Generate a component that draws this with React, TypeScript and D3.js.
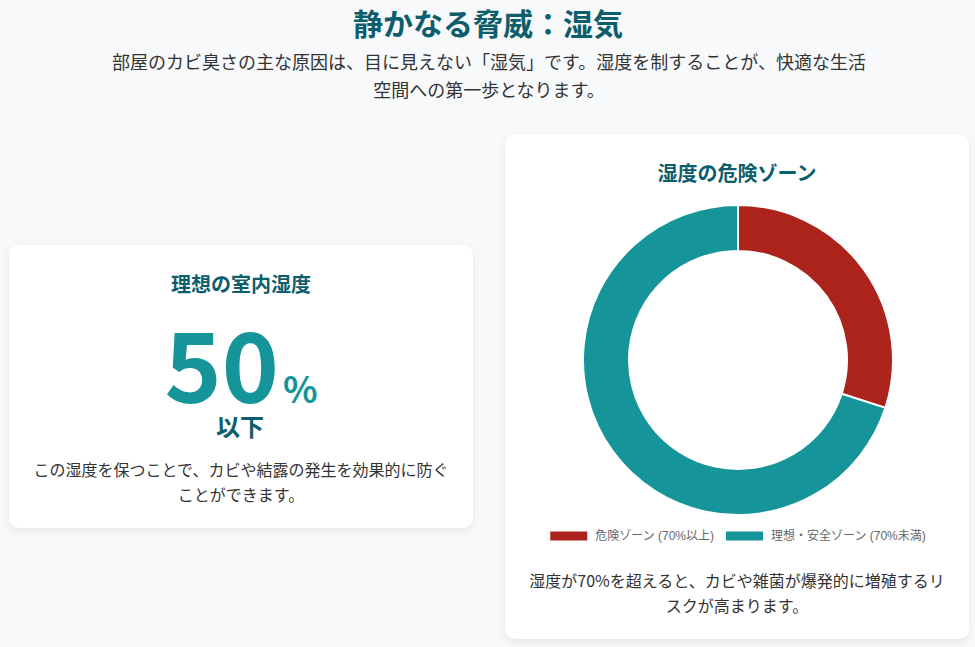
import React, { useEffect, useRef } from "react";
import * as d3 from "d3";

// Chart data
const zoneLabels = ["危険ゾーン (70%以上)", "理想・安全ゾーン (70%未満)"];
const zoneValues = [30, 70];
const zoneColors = ["#AB231B", "#15959A"];

const pageTitle = "静かなる脅威：湿気";
const introLines = [
  "部屋のカビ臭さの主な原因は、目に見えない「湿気」です。湿度を制することが、快適な生活",
  "空間への第一歩となります。",
];
const idealTitle = "理想の室内湿度";
const idealValue = "50";
const idealUnit = "%";
const idealSuffix = "以下";
const idealNote = ["この湿度を保つことで、カビや結露の発生を効果的に防ぐ", "ことができます。"];
const chartTitle = "湿度の危険ゾーン";
const chartNote = ["湿度が70%を超えると、カビや雑菌が爆発的に増殖するリ", "スクが高まります。"];

const JP = "'Noto Sans CJK JP', 'Noto Sans', sans-serif";
const DARK = "#0D5E6D";
const BODY = "#333333";

type Slice = { label: string; value: number; color: string };

const App = () => {
  const ref = useRef<SVGSVGElement | null>(null);

  useEffect(() => {
    const width = 975;
    const height = 647;
    const svg = d3.select(ref.current);
    svg.selectAll("*").remove();
    svg.attr("viewBox", `0 0 ${width} ${height}`);

    // shadow for the cards
    const defs = svg.append("defs");
    const f = defs.append("filter").attr("id", "shadow").attr("x", "-10%").attr("y", "-10%").attr("width", "120%").attr("height", "130%");
    f.append("feDropShadow").attr("dx", 0).attr("dy", 3).attr("stdDeviation", 4).attr("flood-color", "#000").attr("flood-opacity", 0.08);

    svg.append("rect").attr("width", width).attr("height", height).attr("fill", "#F8F9FB");

    const text = (g: any, str: string, x: number, y: number, size: number, weight: number, color: string) =>
      g
        .append("text")
        .attr("x", x)
        .attr("y", y)
        .attr("text-anchor", "middle")
        .attr("dominant-baseline", "central")
        .attr("font-family", JP)
        .attr("font-size", size)
        .attr("font-weight", weight)
        .attr("fill", color)
        .text(str);

    // header
    text(svg, pageTitle, 488, 22, 30, 700, DARK);
    introLines.forEach((l, i) => text(svg, l, 489, 61 + i * 28, 18, 400, BODY));

    // left card
    const lx = 9, ly = 245, lw = 464, lh = 283;
    const lcx = lx + lw / 2;
    svg.append("rect").attr("x", lx).attr("y", ly).attr("width", lw).attr("height", lh).attr("rx", 10).attr("fill", "#fff").attr("filter", "url(#shadow)");
    text(svg, idealTitle, lcx, 283, 20, 700, DARK);
    const big = svg
      .append("text")
      .attr("x", lcx)
      .attr("y", 403)
      .attr("text-anchor", "middle")
      .attr("font-family", JP)
      .attr("font-weight", 700)
      .attr("fill", zoneColors[1]);
    big.append("tspan").attr("font-size", 97).text(idealValue);
    big.append("tspan").attr("font-size", 36).attr("dx", 4).text(idealUnit);
    text(svg, idealSuffix, lcx - 1, 425, 24, 700, DARK);
    idealNote.forEach((l, i) => text(svg, l, lcx, 469 + i * 25, 16, 400, BODY));

    // right card
    const rx = 505, ry = 134, rw = 464, rh = 505;
    const rcx = rx + rw / 2;
    svg.append("rect").attr("x", rx).attr("y", ry).attr("width", rw).attr("height", rh).attr("rx", 10).attr("fill", "#fff").attr("filter", "url(#shadow)");
    text(svg, chartTitle, rcx, 172, 20, 700, DARK);

    const data: Slice[] = zoneLabels.map((label, i) => ({ label, value: zoneValues[i], color: zoneColors[i] }));
    const pie = d3.pie<Slice>().value((d) => d.value).sort(null);
    const arc = d3.arc<d3.PieArcDatum<Slice>>().innerRadius(109).outerRadius(155);
    svg
      .append("g")
      .attr("transform", `translate(${738},${360})`)
      .selectAll("path")
      .data(pie(data))
      .enter()
      .append("path")
      .attr("d", arc)
      .attr("fill", (d) => d.data.color)
      .attr("stroke", "#fff")
      .attr("stroke-width", 2);

    // legend
    const legend = svg.append("g");
    const items = legend
      .selectAll("g")
      .data(data)
      .enter()
      .append("g");
    items
      .append("rect")
      .attr("y", 531.5)
      .attr("width", 37)
      .attr("height", 9)
      .attr("fill", (d) => d.color);
    items
      .append("text")
      .attr("x", 45)
      .attr("y", 536)
      .attr("dominant-baseline", "central")
      .attr("font-family", "'Liberation Sans', 'Noto Sans CJK JP', sans-serif")
      .attr("font-size", 12)
      .attr("fill", "#666")
      .text((d) => d.label);
    const widths: number[] = [];
    items.each(function () {
      const t = d3.select(this).select("text").node() as SVGTextElement;
      widths.push(45 + t.getComputedTextLength());
    });
    const gap = 12;
    const total = d3.sum(widths) + gap * (widths.length - 1);
    let cursor = 738 - total / 2;
    items.attr("transform", (_d, i) => {
      const x = cursor;
      cursor += widths[i] + gap;
      return `translate(${x},0)`;
    });

    chartNote.forEach((l, i) => text(svg, l, rcx, 580 + i * 25, 16, 400, BODY));
  }, []);

  return (
    <svg
      ref={ref}
      width={975}
      height={647}
      style={{ position: "absolute", left: 0, top: 0, display: "block" }}
    />
  );
};

export default App;
